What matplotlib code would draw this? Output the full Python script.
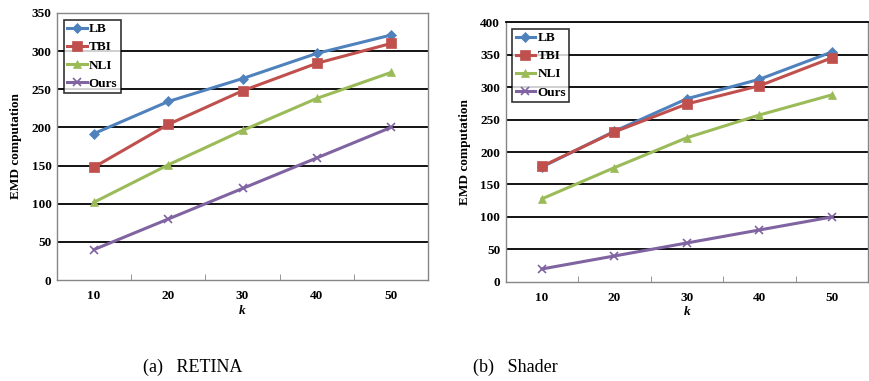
import numpy as np
import matplotlib.pyplot as plt

plt.rcParams["font.family"] = ["Liberation Serif", "DejaVu Serif"]
plt.rcParams["font.size"] = 9.5

# data
k = [10, 20, 30, 40, 50]
series = ["LB", "TBI", "NLI", "Ours"]

retina_lb   = [192, 234, 264, 297, 321]
retina_tbi  = [148, 204, 248, 284, 310]
retina_nli  = [102, 151, 196, 238, 272]
retina_ours = [40, 80, 120, 160, 200]

shader_lb   = [177, 232, 282, 312, 354]
shader_tbi  = [178, 231, 274, 302, 345]
shader_nli  = [128, 176, 222, 257, 288]
shader_ours = [20, 40, 60, 80, 100]

colors  = ["#4F81BD", "#C0504D", "#9BBB59", "#8064A2"]
markers = ["D", "s", "^", "x"]
msizes  = [5, 6.5, 6, 6]

fig = plt.figure(figsize=(8.69, 3.81), dpi=100)


def panel(ax, vals, ymax, ystep, top_grid):
    pos = np.arange(1, len(k) + 1)
    for v, name, c, m, ms in zip(vals, series, colors, markers, msizes):
        ax.plot(pos, v, color=c, marker=m, markersize=ms, lw=2.2,
                markeredgewidth=1.2 if m == "x" else 0.5, label=name)
    ax.set_xlim(0.5, len(k) + 0.5)
    ax.set_ylim(0, ymax)
    yt = np.arange(0, ymax + 1, ystep)
    ax.set_yticks(yt)
    ax.set_yticklabels([str(t) for t in yt], fontweight="bold")
    for g in yt[1:-1]:
        ax.axhline(g, color="black", lw=1.3, zorder=0)
    ax.set_xticks(pos)
    ax.set_xticklabels([str(x) for x in k], fontweight="bold")
    ax.set_xticks(np.arange(0.5, len(k) + 1), minor=True)
    ax.tick_params(axis="x", which="major", length=0, pad=7)
    ax.tick_params(axis="x", which="minor", length=4, color="#868686", direction="in")
    ax.tick_params(axis="y", length=0, pad=4)
    for s in ax.spines.values():
        s.set_color("#868686")
        s.set_linewidth(1.0)
    if top_grid:
        ax.spines["top"].set_color("black")
        ax.spines["top"].set_linewidth(1.3)
    ax.set_xlabel("k", fontstyle="italic", fontweight="bold", labelpad=2)
    ax.set_ylabel("EMD computation", fontweight="bold", labelpad=7)
    leg = ax.legend(loc="upper left", bbox_to_anchor=(0.018, 0.975), frameon=True,
                    fancybox=False, edgecolor="black", borderpad=0.25,
                    handlelength=1.5, handletextpad=0.15, labelspacing=0.45,
                    borderaxespad=0.0, prop={"weight": "bold", "size": 9.5})
    leg.get_frame().set_linewidth(1.2)


ax1 = fig.add_axes([0.0656, 0.265, 0.427, 0.701])
panel(ax1, [retina_lb, retina_tbi, retina_nli, retina_ours], 350, 50, False)

ax2 = fig.add_axes([0.582, 0.260, 0.417, 0.682])
panel(ax2, [shader_lb, shader_tbi, shader_nli, shader_ours], 400, 50, True)

fig.text(0.165, 0.025, "(a)   RETINA", fontsize=13)
fig.text(0.544, 0.025, "(b)   Shader", fontsize=13)

fig.savefig("out.png", dpi=100)
